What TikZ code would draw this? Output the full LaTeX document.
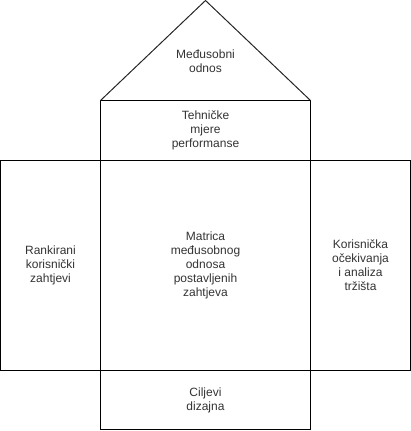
\documentclass[tikz,border=0pt]{standalone}
\usepackage{fontspec}
\setmainfont{Liberation Sans}
\usepackage{tikz}
\usetikzlibrary{positioning}

\begin{document}
\begin{tikzpicture}[x=1pt, y=-1pt,
  polje/.style={rectangle, draw=black, line width=1pt, inner sep=0pt, outer sep=0pt,
    align=center, text=black!80, font=\fontsize{12}{14}\selectfont},
  natpis/.style={align=center, text=black!80, font=\fontsize{12}{14}\selectfont},
]
\useasboundingbox (0,0) rectangle (411,431);
% krov kuce
\node[polje, minimum width=210pt, minimum height=60pt] (mjere) at (205.5,130.5)
  {Tehničke\\mjere\\performanse};
\coordinate (vrh) at (205.5,0.5);
\draw[line width=1pt, draw=black!85] (mjere.north west) -- (vrh) -- (mjere.north east);
\node[natpis] (odnos) at (205.5,61) {Međusobni\\odnos};
% srednji red
\node[polje, minimum width=210pt, minimum height=210pt] (matrica) at (205.5,265.5)
  {Matrica\\međusobnog\\odnosa\\postavljenih\\zahtjeva};
\node[polje, minimum width=100pt, minimum height=210pt, left=0pt of matrica] (zahtjevi)
  {Rankirani\\korisnički\\zahtjevi};
\node[polje, minimum width=100pt, minimum height=210pt, right=0pt of matrica] (trziste)
  {Korisnička\\očekivanja\\i analiza\\tržišta};
% temelj
\node[polje, minimum width=210pt, minimum height=59pt, below=0pt of matrica] (ciljevi)
  {Ciljevi\\dizajna};
\end{tikzpicture}
\end{document}
